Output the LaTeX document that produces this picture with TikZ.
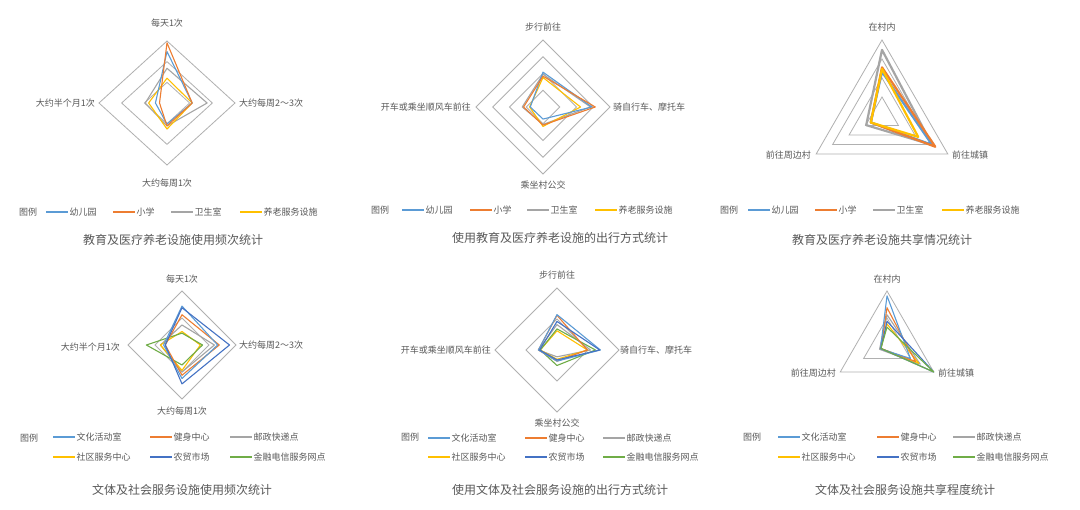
\documentclass[tikz,border=0pt]{standalone}
\usepackage{fontspec}
\setmainfont{Noto Sans CJK SC}
\usetikzlibrary{calc}
\definecolor{cA}{HTML}{5B9BD5}
\definecolor{cB}{HTML}{ED7D31}
\definecolor{cC}{HTML}{A5A5A5}
\definecolor{cD}{HTML}{FFC000}
\definecolor{cE}{HTML}{4472C4}
\definecolor{cF}{HTML}{70AD47}
\definecolor{txt}{HTML}{595959}
\definecolor{gridc}{HTML}{B0B0B0}
\tikzset{
  grid line/.style={draw=gridc,line width=.8pt},
  series/.style={line width=1.1pt,line join=round},
  axis label/.style={font=\fontsize{9}{10}\selectfont,text=txt,inner sep=1pt},
  legend text/.style={font=\fontsize{9}{10}\selectfont,text=txt,anchor=west,inner sep=1pt},
  chart title/.style={font=\fontsize{12}{13}\selectfont,text=txt}}
% diamond series: top, right, bottom, left
\newcommand{\dser}[5]{\draw[series,#1] (0,#2) -- (#3,0) -- (0,-#4) -- (-#5,0) -- cycle;}
% triangle series: top, lower right, lower left
\newcommand{\tser}[4]{\draw[series,#1] (90:#2) -- (-30:#3) -- (210:#4) -- cycle;}
\newcommand{\lgd}[4]{\draw[#3,line width=1.1pt] (#1,#2) -- ++(22,0)
  node[legend text] {#4};}
\begin{document}
\begin{tikzpicture}[x=1pt,y=-1pt]
\path[use as bounding box,fill=white] (0,0) rectangle (1080,510);

% chart 1
\begin{scope}[shift={(167,103)},x=68pt,y=62pt]
\foreach \r in {0.333,0.667,1} \draw[grid line] (0,\r) -- (\r,0) -- (0,-\r) -- (-\r,0) -- cycle;
\dser{cC}{.56}{.59}{.37}{.32}
\dser{cD}{.40}{.37}{.42}{.27}
\dser{cA}{.83}{.37}{.34}{.17}
\dser{cB}{.97}{.37}{.37}{.11}
\end{scope}
\node[axis label] (c1t) at (167,23) {每天1次};
\node[axis label,anchor=west] (c1r) at (238,103) {大约每周2～3次};
\node[axis label] (c1b) at (167,183) {大约每周1次};
\node[axis label,anchor=east] (c1l) at (96,103) {大约半个月1次};
\node[legend text] (c1g) at (18,212) {图例};
\lgd{46}{212}{cA}{幼儿园}
\lgd{113}{212}{cB}{小学}
\lgd{171}{212}{cC}{卫生室}
\lgd{240}{212}{cD}{养老服务设施}
\node[chart title] (c1n) at (173,240) {教育及医疗养老设施使用频次统计};

% chart 2
\begin{scope}[shift={(543,107)},x=67pt,y=67pt]
\foreach \r in {0.25,0.5,0.75,1} \draw[grid line] (0,\r) -- (\r,0) -- (0,-\r) -- (-\r,0) -- cycle;
\dser{cC}{.49}{.71}{.26}{.31}
\dser{cD}{.44}{.56}{.29}{.20}
\dser{cA}{.52}{.73}{.18}{.19}
\dser{cB}{.46}{.78}{.27}{.29}
\end{scope}
\node[axis label] (c2t) at (543,27) {步行前往};
\node[axis label,anchor=west] (c2r) at (612,107) {骑自行车、摩托车};
\node[axis label] (c2b) at (543,185) {乘坐村公交};
\node[axis label,anchor=east] (c2l) at (472,107) {开车或乘坐顺风车前往};
\node[legend text] (c2g) at (370,210) {图例};
\lgd{402}{210}{cA}{幼儿园}
\lgd{470}{210}{cB}{小学}
\lgd{527}{210}{cC}{卫生室}
\lgd{595}{210}{cD}{养老服务设施}
\node[chart title] (c2n) at (560,238) {使用教育及医疗养老设施的出行方式统计};

% chart 3
\begin{scope}[shift={(882,116)},x=76pt,y=76pt]
\foreach \r in {0.25,0.5,0.75,1} \draw[grid line] (90:\r) -- (-30:\r) -- (210:\r) -- cycle;
\begin{scope}[series/.append style={line width=2.2pt}]
\tser{cC}{.87}{.76}{.24}
\tser{cA}{.58}{.76}{.17}
\tser{cB}{.64}{.81}{.17}
\tser{cD}{.62}{.55}{.17}
\end{scope}
\end{scope}
\node[axis label] (c3t) at (882,27) {在村内};
\node[axis label,anchor=west] (c3r) at (951,155) {前往城镇};
\node[axis label,anchor=east] (c3l) at (812,155) {前往周边村};
\node[legend text] (c3g) at (719,210) {图例};
\lgd{748}{210}{cA,line width=2.2pt}{幼儿园}
\lgd{815}{210}{cB,line width=2.2pt}{小学}
\lgd{873}{210}{cC,line width=2.2pt}{卫生室}
\lgd{942}{210}{cD,line width=2.2pt}{养老服务设施}
\node[chart title] (c3n) at (882,240) {教育及医疗养老设施共享情况统计};

% chart 4
\begin{scope}[shift={(182,345)},x=54pt,y=54pt]
\foreach \r in {0.5,1} \draw[grid line] (0,\r) -- (\r,0) -- (0,-\r) -- (-\r,0) -- cycle;
\dser{cC}{.37}{.60}{.50}{.40}
\dser{cD}{.25}{.34}{.47}{.40}
\dser{cF}{.22}{.38}{.37}{.66}
\dser{cB}{.56}{.69}{.56}{.31}
\dser{cA}{.72}{.66}{.62}{.34}
\dser{cE}{.69}{.88}{.72}{.31}
\end{scope}
\node[axis label] (c4t) at (182,279) {每天1次};
\node[axis label,anchor=west] (c4r) at (238,345) {大约每周2～3次};
\node[axis label] (c4b) at (182,411) {大约每周1次};
\node[axis label,anchor=east] (c4l) at (121,347) {大约半个月1次};
\node[legend text] (c4g) at (19,438) {图例};
\lgd{53}{437}{cA}{文化活动室}
\lgd{150}{437}{cB}{健身中心}
\lgd{230}{437}{cC}{邮政快递点}
\lgd{53}{457}{cD}{社区服务中心}
\lgd{150}{457}{cE}{农贸市场}
\lgd{230}{457}{cF}{金融电信服务网点}
\node[chart title] (c4n) at (182,490) {文体及社会服务设施使用频次统计};

% chart 5
\begin{scope}[shift={(557,350)},x=62pt,y=62pt]
\foreach \r in {0.5,1} \draw[grid line] (0,\r) -- (\r,0) -- (0,-\r) -- (-\r,0) -- cycle;
\dser{cC}{.41}{.54}{.11}{.30}
\dser{cD}{.31}{.49}{.15}{.27}
\dser{cF}{.34}{.62}{.25}{.27}
\dser{cB}{.56}{.49}{.18}{.30}
\dser{cA}{.57}{.70}{.18}{.30}
\dser{cE}{.46}{.69}{.16}{.28}
\end{scope}
\node[axis label] (c5t) at (557,275) {步行前往};
\node[axis label,anchor=west] (c5r) at (619,350) {骑自行车、摩托车};
\node[axis label] (c5b) at (557,423) {乘坐村公交};
\node[axis label,anchor=east] (c5l) at (492,350) {开车或乘坐顺风车前往};
\node[legend text] (c5g) at (400,437) {图例};
\lgd{428}{438}{cA}{文化活动室}
\lgd{525}{438}{cB}{健身中心}
\lgd{603}{438}{cC}{邮政快递点}
\lgd{428}{457}{cD}{社区服务中心}
\lgd{525}{457}{cE}{农贸市场}
\lgd{603}{457}{cF}{金融电信服务网点}
\node[chart title] (c5n) at (560,490) {使用文体及社会服务设施的出行方式统计};

% chart 6
\begin{scope}[shift={(887,345)},x=54pt,y=54pt]
\foreach \r in {0.5,1} \draw[grid line] (90:\r) -- (-30:\r) -- (210:\r) -- cycle;
\tser{cC}{.56}{.71}{.16}
\tser{cD}{.39}{.68}{.13}
\tser{cB}{.69}{.61}{.13}
\tser{cA}{.91}{.50}{.14}
\tser{cE}{.44}{1}{.13}
\tser{cF}{.33}{1}{.13}
\end{scope}
\node[axis label] (c6t) at (887,279) {在村内};
\node[axis label,anchor=west] (c6r) at (937,373) {前往城镇};
\node[axis label,anchor=east] (c6l) at (837,373) {前往周边村};
\node[legend text] (c6g) at (742,437) {图例};
\lgd{778}{437}{cA}{文化活动室}
\lgd{877}{437}{cB}{健身中心}
\lgd{953}{437}{cC}{邮政快递点}
\lgd{778}{457}{cD}{社区服务中心}
\lgd{877}{457}{cE}{农贸市场}
\lgd{953}{457}{cF}{金融电信服务网点}
\node[chart title] (c6n) at (905,490) {文体及社会服务设施共享程度统计};
\end{tikzpicture}
\end{document}
